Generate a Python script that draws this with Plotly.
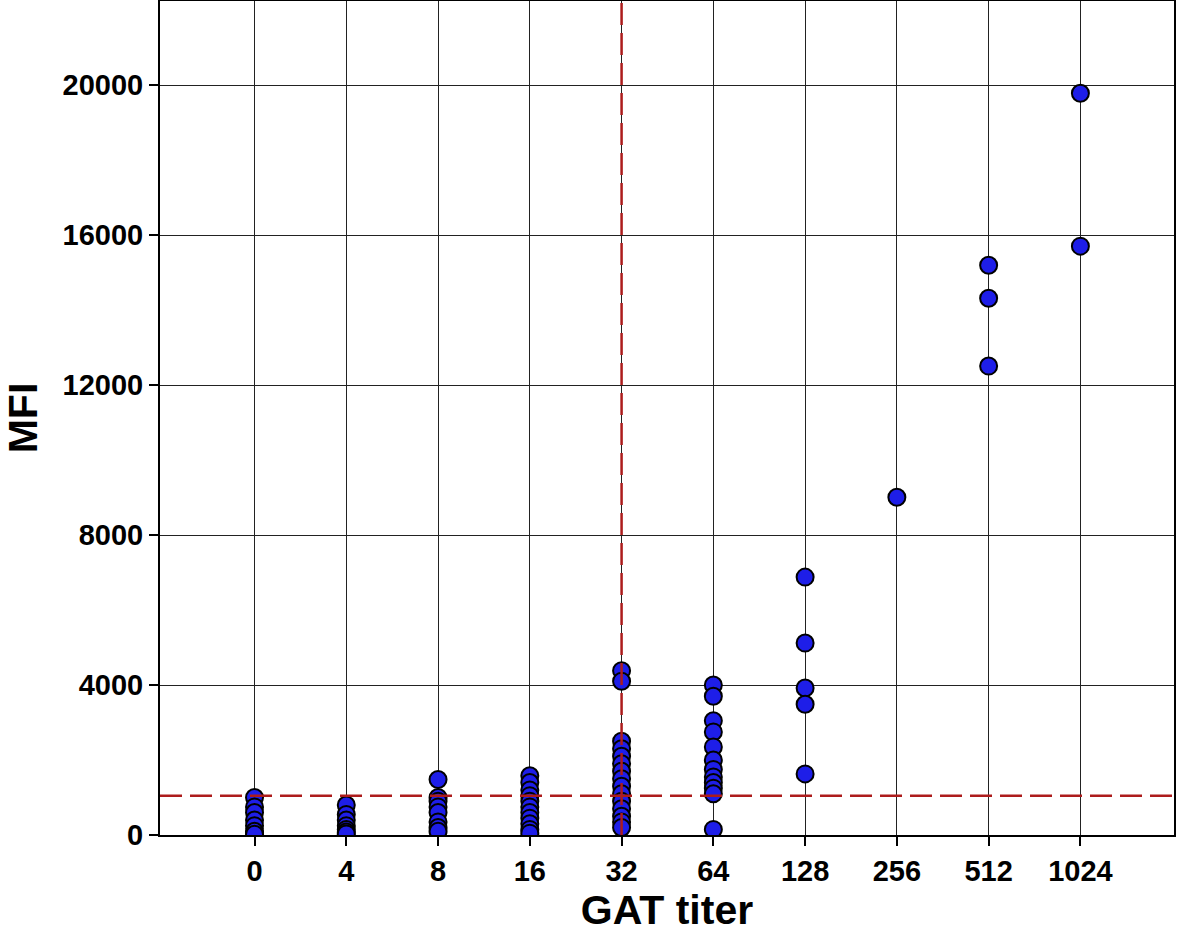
import plotly.graph_objects as go

# GAT titer categories and MFI readings per titer
titers = ["0", "4", "8", "16", "32", "64", "128", "256", "512", "1024"]
mfi_0 = [1000, 750, 600, 400, 250, 100, 20]
mfi_4 = [800, 550, 400, 250, 150, 80, 30]
mfi_8 = [1480, 1000, 900, 750, 600, 350, 200, 100]
mfi_16 = [1580, 1400, 1200, 1050, 900, 750, 600, 450, 300, 150, 50]
mfi_32 = [4380, 4100, 2500, 2300, 2100, 1900, 1700, 1500, 1300, 1100, 900, 700, 500, 350, 200]
mfi_64 = [4000, 3700, 3050, 2750, 2350, 2000, 1750, 1550, 1400, 1250, 1100, 150]
mfi_128 = [6880, 5120, 3920, 3490, 1630]
mfi_256 = [9010]
mfi_512 = [15200, 14320, 12510]
mfi_1024 = [19790, 15710]

y_ticks = [0, 4000, 8000, 12000, 16000, 20000]
mfi_cutoff = 1050
titer_cutoff = "32"

groups = [mfi_0, mfi_4, mfi_8, mfi_16, mfi_32, mfi_64, mfi_128, mfi_256, mfi_512, mfi_1024]
xs, ys = [], []
for t, vals in zip(titers, groups):
    xs += [t] * len(vals)
    ys += vals

font_family = "Liberation Sans, Arial, sans-serif"
red = "#ad1c1c"

fig = go.Figure()
fig.add_trace(go.Scatter(
    x=xs, y=ys, mode="markers",
    marker=dict(size=17, color="#1e1ee8", line=dict(color="black", width=2)),
    showlegend=False,
))

fig.add_shape(type="line", xref="x", yref="paper",
              x0=titers.index(titer_cutoff), x1=titers.index(titer_cutoff), y0=0, y1=1,
              line=dict(color=red, width=2.5, dash="22px,8px"), layer="above")
fig.add_shape(type="line", xref="paper", yref="y",
              x0=0, x1=1, y0=mfi_cutoff, y1=mfi_cutoff,
              line=dict(color=red, width=2.5, dash="22px,8px"), layer="above")

fig.update_layout(
    width=1180, height=934,
    margin=dict(l=160, r=6, t=1, b=99),
    plot_bgcolor="white", paper_bgcolor="white",
    font=dict(family=font_family, color="black"),
    xaxis=dict(
        type="category", categoryorder="array", categoryarray=titers,
        range=[-1.03, 10.02], automargin=False,
        showgrid=True, gridcolor="#222222", gridwidth=1,
        showline=True, linecolor="black", linewidth=2, mirror=True,
        ticks="outside", ticklen=9, tickwidth=2, tickcolor="black",
        tickfont=dict(size=29, family=font_family, weight="bold"),
        title=dict(text="<b>GAT titer</b>", font=dict(size=41), standoff=0),
        zeroline=False,
    ),
    yaxis=dict(
        range=[0, 22250], tickvals=y_ticks, ticktext=[str(v) for v in y_ticks],
        automargin=False,
        showgrid=True, gridcolor="#222222", gridwidth=1,
        showline=True, linecolor="black", linewidth=2, mirror=True,
        ticks="outside", ticklen=9, tickwidth=2, tickcolor="black",
        tickfont=dict(size=29, family=font_family, weight="bold"),
        title=dict(text="<b>MFI</b>", font=dict(size=41), standoff=19),
        zeroline=False,
    ),
)

# drop the browser's default body margin so the figure sits at the page corner
fig.write_html("out.html", config={"displayModeBar": False},
               post_script="document.body.style.margin = '0';")
